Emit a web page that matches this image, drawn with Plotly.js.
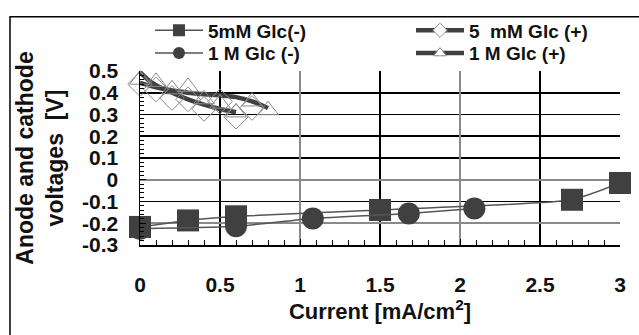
<!DOCTYPE html>
<html>
<head>
<meta charset="utf-8">
<script src="https://cdn.plot.ly/plotly-3.0.1.min.js"></script>
<style>html,body{margin:0;padding:0;background:#fff}#chart{width:639px;height:335px}</style>
</head>
<body>
<div id="chart"></div>
<script>
// ---- data ----
const seriesNames = ["5mM Glc(-)", "1 M Glc (-)", "5  mM Glc (+)", "1 M Glc (+)"];

const sq5mMX = [0, 0.3, 0.6, 1.5, 2.7, 3.0];
const sq5mMY = [-0.217, -0.187, -0.168, -0.139, -0.092, -0.015];

const ci1MX = [0, 0.6, 1.08, 1.68, 2.09];
const ci1MY = [-0.225, -0.214, -0.178, -0.155, -0.132];

const dia5mMX = [0, 0.1, 0.2, 0.3, 0.4, 0.5, 0.6, 0.7];
const dia5mMY = [0.44, 0.415, 0.376, 0.37, 0.326, 0.36, 0.29, 0.33];

const tri1MX = [0, 0.1, 0.2, 0.3, 0.4, 0.5, 0.6, 0.7, 0.8];
const tri1MY = [0.46, 0.45, 0.416, 0.427, 0.37, 0.35, 0.31, 0.36, 0.32];

const curve5mMX = [0, 0.05, 0.1, 0.2, 0.3, 0.4, 0.5, 0.6];
const curve5mMY = [0.495, 0.46, 0.435, 0.40, 0.37, 0.345, 0.325, 0.31];

const curve1MX = [0, 0.1, 0.2, 0.3, 0.4, 0.5, 0.6, 0.7, 0.8];
const curve1MY = [0.445, 0.425, 0.41, 0.40, 0.393, 0.388, 0.38, 0.36, 0.33];

const xTickVals = [0, 0.5, 1, 1.5, 2, 2.5, 3];
const yTickVals = [-0.3, -0.2, -0.1, 0, 0.1, 0.2, 0.3, 0.4, 0.5];
const xGridGray = [1, 2, 3];
const yGridGray = [0, -0.2];

// ---- styling ----
const FONT = "Liberation Sans, Arial, sans-serif";
const DARK = "#404040";
const GRAY = "#8a8a8a";
const TXT = "#111";

const traces = [
  // (+) thick curves
  {x: curve5mMX, y: curve5mMY, mode: "lines", showlegend: false,
   line: {color: DARK, width: 4.5, shape: "spline", smoothing: 1}},
  {x: curve1MX, y: curve1MY, mode: "lines", showlegend: false,
   line: {color: DARK, width: 4.5, shape: "spline", smoothing: 1}},
  // (+) open markers
  {x: dia5mMX, y: dia5mMY, mode: "markers", showlegend: false,
   marker: {symbol: "diamond-open", size: 19, color: GRAY, line: {width: 1}}, cliponaxis: false},
  {x: tri1MX, y: tri1MY, mode: "markers", showlegend: false,
   marker: {symbol: "triangle-up-open", size: 18, color: GRAY, line: {width: 1}}, cliponaxis: false},
  // thin (-) series
  {x: sq5mMX, y: sq5mMY, mode: "lines+markers", showlegend: false,
   line: {color: "#555", width: 1.5, shape: "spline", smoothing: 0.5},
   marker: {symbol: "square", size: 22, color: DARK}, cliponaxis: false},
  {x: ci1MX, y: ci1MY, mode: "lines+markers", showlegend: false,
   line: {color: "#555", width: 1.5, shape: "spline", smoothing: 0.5},
   marker: {symbol: "circle", size: 22, color: DARK}, cliponaxis: false},
  // overlay subplot carrying the gray grid lines (no visible data)
  {x: [null], y: [null], mode: "markers", showlegend: false, xaxis: "x2", yaxis: "y2"},
  // legend keys
  {x: [null], y: [null], name: seriesNames[0], mode: "lines+markers", legend: "legend",
   line: {color: "#555", width: 1.5}, marker: {symbol: "square", size: 12, color: DARK}},
  {x: [null], y: [null], name: seriesNames[1], mode: "lines+markers", legend: "legend2",
   line: {color: "#555", width: 1.5}, marker: {symbol: "circle", size: 12, color: DARK}},
  {x: [null], y: [null], name: seriesNames[2], mode: "lines+markers", legend: "legend3",
   line: {color: DARK, width: 4.5},
   marker: {symbol: "diamond", size: 11, color: "#fff", line: {color: GRAY, width: 1}}},
  {x: [null], y: [null], name: seriesNames[3], mode: "lines+markers", legend: "legend4",
   line: {color: DARK, width: 4.5},
   marker: {symbol: "triangle-up", size: 11, color: "#fff", line: {color: GRAY, width: 1}}}
];

const L = 140, R = 620, T = 69, B = 245;
const pw = R - L, ph = B - T;
const px = v => (v - L) / pw;
const py = v => (B - v) / ph;

const legendFont = {family: FONT, size: 19, color: TXT, weight: 700};
function leg(xp, yp) {
  return {x: px(xp), y: py(yp), xanchor: "left", yanchor: "middle", bgcolor: "rgba(0,0,0,0)",
          borderwidth: 0, font: legendFont, itemwidth: 48, tracegroupgap: 0};
}

const tickFont = {family: FONT, size: 21, weight: 700, color: TXT};

const layout = {
  width: 639, height: 335,
  margin: {l: L, r: 639 - R, t: T, b: 335 - B},
  paper_bgcolor: "#fff", plot_bgcolor: "#fff",
  font: {family: FONT, size: 18, color: TXT, weight: 700},
  showlegend: true,
  legend: leg(150, 28),
  legend2: leg(150, 51),
  legend3: leg(411, 28),
  legend4: leg(411, 51),
  xaxis: {
    range: [0, 3], tickvals: xTickVals, ticktext: xTickVals.map(String),
    ticks: "inside", ticklen: 6, tickcolor: "#000", tickwidth: 1,
    minor: {dtick: 0.1, ticks: "inside", ticklen: 5, tickcolor: "#000", showgrid: false},
    showgrid: true, gridcolor: "#000", gridwidth: 1.6,
    zeroline: false, showline: true, linecolor: "#000", linewidth: 1.5,
    ticklabelstandoff: 20,
    tickfont: tickFont,
    title: {text: "Current [mA/cm<sup>2</sup>]", standoff: 1,
            font: {family: FONT, size: 22, weight: 700, color: TXT}},
    automargin: false
  },
  yaxis: {
    range: [-0.3, 0.5], tickvals: yTickVals, ticktext: yTickVals.map(String),
    ticks: "inside", ticklen: 6, tickcolor: "#000",
    minor: {dtick: 0.02, ticks: "inside", ticklen: 4, tickcolor: "#000", showgrid: false},
    showgrid: true, gridcolor: "#000", gridwidth: 1.6,
    zeroline: false, showline: true, linecolor: "#000", linewidth: 1.5,
    ticklabelstandoff: 16,
    tickfont: tickFont,
    title: {text: "Anode and cathode<br>voltages  [V]", standoff: 12,
            font: {family: FONT, size: 23, weight: 700, color: TXT}},
    automargin: false
  },
  xaxis2: {overlaying: "x", anchor: "y2", range: [0, 3], tickvals: xGridGray,
           showticklabels: false, ticks: "", showgrid: true, gridcolor: GRAY, gridwidth: 1.8,
           zeroline: false, showline: false},
  yaxis2: {overlaying: "y", anchor: "x2", range: [-0.3, 0.5], tickvals: yGridGray,
           showticklabels: false, ticks: "", showgrid: true, gridcolor: GRAY, gridwidth: 1.8,
           zeroline: false, showline: false},
  shapes: [{type: "rect", xref: "paper", yref: "paper",
            x0: px(10), x1: px(648), y0: py(345), y1: py(14),
            line: {color: "#000", width: 1.5}, fillcolor: "rgba(0,0,0,0)", layer: "below"}]
};

Plotly.newPlot("chart", traces, layout, {staticPlot: true, displayModeBar: false});
</script>
</body>
</html>
